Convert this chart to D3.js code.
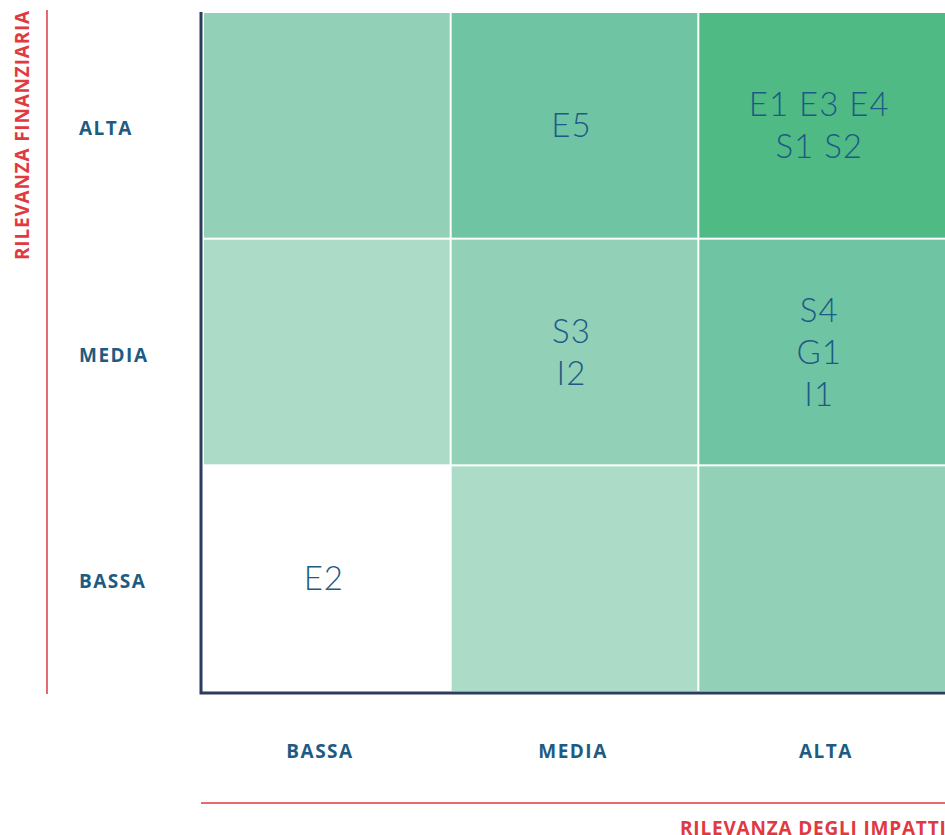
<!DOCTYPE html>
<html>
<head>
<meta charset="utf-8">
<script src="https://cdn.jsdelivr.net/npm/d3@7"></script>
<style>
  body { margin: 0; background: #fff; }
  svg { display: block; }
</style>
</head>
<body>
<svg id="chart" width="945" height="835"></svg>
<script>
// categories
var rowLevels = ["ALTA", "MEDIA", "BASSA"];     // rilevanza finanziaria (top -> bottom)
var colLevels = ["BASSA", "MEDIA", "ALTA"];     // rilevanza degli impatti (left -> right)

// topics placed in each cell
var cellTopics = [
  {row: "ALTA",  col: "BASSA", items: []},
  {row: "ALTA",  col: "MEDIA", items: ["E5"]},
  {row: "ALTA",  col: "ALTA",  items: ["E1 E3 E4", "S1 S2"]},
  {row: "MEDIA", col: "BASSA", items: []},
  {row: "MEDIA", col: "MEDIA", items: ["S3", "I2"]},
  {row: "MEDIA", col: "ALTA",  items: ["S4", "G1", "I1"]},
  {row: "BASSA", col: "BASSA", items: ["E2"]},
  {row: "BASSA", col: "MEDIA", items: []},
  {row: "BASSA", col: "ALTA",  items: []}
];

var shades = ["#ffffff", "#acdbc8", "#92d0b8", "#6fc4a4", "#4fba83"];
var titles = {y: "RILEVANZA FINANZIARIA", x: "RILEVANZA DEGLI IMPATTI"};

var svg = d3.select("#chart");
var plot = {l: 203, t: 12, r: 946, b: 692};
var labelFont = "'Open Sans', sans-serif";

var x = d3.scaleBand().domain(colLevels).range([plot.l, plot.r]);
var y = d3.scaleBand().domain(rowLevels).range([plot.t, plot.b]);
// bottom labels sit slightly off the cell centres in the original
var xLab = d3.scalePoint().domain(colLevels).range([320, 826]);
var shade = d3.scaleOrdinal().domain(d3.range(5)).range(shades);

function level(d) {
  return colLevels.indexOf(d.col) + (rowLevels.length - 1 - rowLevels.indexOf(d.row));
}

// cells
var cells = svg.append("g").selectAll("g")
  .data(cellTopics)
  .enter().append("g")
  .attr("transform", function(d) { return "translate(" + [x(d.col), y(d.row)] + ")"; });

cells.append("rect")
  .attr("x", 1).attr("y", 1)
  .attr("width", x.bandwidth() - 2)
  .attr("height", y.bandwidth() - 2)
  .attr("fill", function(d) { return shade(level(d)); });

var lineH = 42;
cells.each(function(d) {
  var n = d.items.length;
  d3.select(this).selectAll("text")
    .data(d.items)
    .enter().append("text")
    .attr("x", x.bandwidth() / 2 - 3)
    .attr("y", function(t, i) { return y.bandwidth() / 2 + (i - (n - 1) / 2) * lineH; })
    .attr("dy", "0.35em")
    .attr("text-anchor", "middle")
    .attr("font-family", "Lato, sans-serif")
    .attr("font-weight", 300)
    .attr("font-size", 33)
    .attr("letter-spacing", 1)
    .attr("fill", "#1d5a85")
    .text(function(t) { return t; });
});

// axis frame
svg.append("path")
  .attr("d", "M" + (plot.l - 2) + "," + plot.t + "V" + (plot.b + 1) + "H" + 945)
  .attr("fill", "none")
  .attr("stroke", "#2b3c5c")
  .attr("stroke-width", 3);

// tick labels
svg.append("g").selectAll("text")
  .data(rowLevels)
  .enter().append("text")
  .attr("x", 79)
  .attr("y", function(d) { return y(d) + y.bandwidth() / 2 + 3; })
  .attr("dy", "0.35em")
  .attr("font-family", labelFont)
  .attr("font-weight", "bold")
  .attr("font-size", 19)
  .attr("letter-spacing", 1.5)
  .attr("fill", "#1e5b82")
  .text(function(d) { return d; });

svg.append("g").selectAll("text")
  .data(colLevels)
  .enter().append("text")
  .attr("x", function(d) { return xLab(d); })
  .attr("y", 751)
  .attr("dy", "0.35em")
  .attr("text-anchor", "middle")
  .attr("font-family", labelFont)
  .attr("font-weight", "bold")
  .attr("font-size", 19)
  .attr("letter-spacing", 1.5)
  .attr("fill", "#1e5b82")
  .text(function(d) { return d; });

// red guides + titles
svg.append("line")
  .attr("x1", 47).attr("x2", 47).attr("y1", 10).attr("y2", 694)
  .attr("stroke", "#e0393f").attr("stroke-width", 1.5);
svg.append("line")
  .attr("x1", 201).attr("x2", 945).attr("y1", 803).attr("y2", 803)
  .attr("stroke", "#e0393f").attr("stroke-width", 1.5);

svg.append("text")
  .attr("transform", "translate(22,10) rotate(-90)")
  .attr("dy", "0.35em")
  .attr("text-anchor", "end")
  .attr("font-family", labelFont)
  .attr("font-weight", "bold")
  .attr("font-size", 19)
  .attr("letter-spacing", 0.8)
  .attr("fill", "#e0393f")
  .text(titles.y);

svg.append("text")
  .attr("x", 680).attr("y", 828)
  .attr("dy", "0.35em")
  .attr("font-family", labelFont)
  .attr("font-weight", "bold")
  .attr("font-size", 19)
  .attr("letter-spacing", 0.8)
  .attr("fill", "#e0393f")
  .text(titles.x);
</script>
</body>
</html>
